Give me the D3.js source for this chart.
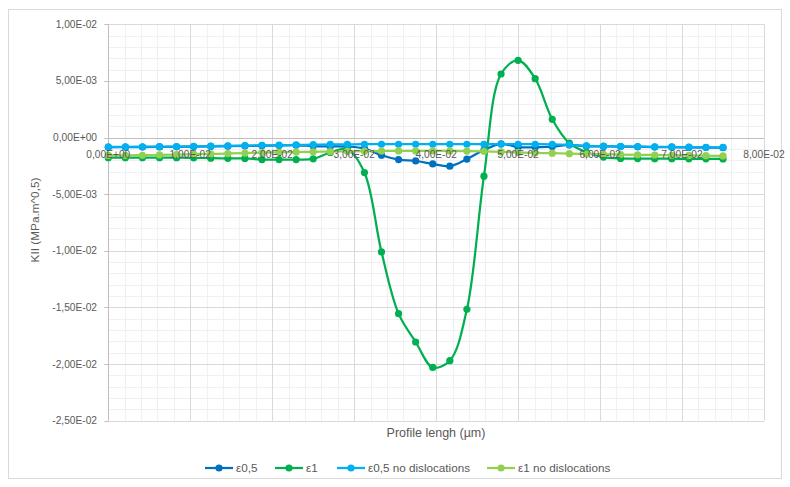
<!DOCTYPE html>
<html><head><meta charset="utf-8">
<script src="https://cdn.jsdelivr.net/npm/d3@7"></script>
<style>body{margin:0;background:#fff}text{font-family:"Liberation Sans",Arial,sans-serif;fill:#595959}</style>
</head><body><svg id="c" width="790" height="487"></svg>
<script>
const nPts = 37, xMax = 0.075;
const xValues = d3.range(nPts).map(i => i * xMax / (nPts - 1));
const seriesNames = ["ε0,5", "ε1", "ε0,5 no dislocations", "ε1 no dislocations"];
const seriesColors = ["#0070C0", "#00B050", "#00B0F0", "#92D050"];
// values in units of 1e-3
const eps05 = [-0.86,-0.85,-0.84,-0.83,-0.82,-0.80,-0.78,-0.76,-0.74,-0.72,-0.70,-0.68,-0.75,-0.78,-0.80,-0.97,-1.56,-1.94,-2.06,-2.33,-2.53,-1.90,-1.10,-0.55,-0.85,-0.85,-0.80,-0.65,-0.76,-0.78,-0.80,-0.82,-0.84,-0.85,-0.87,-0.88,-0.89];
const eps1 = [-1.78,-1.78,-1.78,-1.78,-1.78,-1.79,-1.82,-1.83,-1.84,-1.94,-1.94,-1.94,-1.88,-1.32,-1.05,-3.09,-10.1,-15.55,-18.05,-20.3,-19.7,-15.17,-3.41,5.61,6.82,5.2,1.61,-0.5,-1.30,-1.72,-1.84,-1.86,-1.87,-1.87,-1.88,-1.88,-1.89];
const eps05NoDisl = [-0.83,-0.82,-0.81,-0.80,-0.79,-0.77,-0.75,-0.73,-0.71,-0.69,-0.67,-0.65,-0.63,-0.61,-0.60,-0.59,-0.59,-0.59,-0.59,-0.59,-0.59,-0.59,-0.59,-0.59,-0.59,-0.59,-0.60,-0.65,-0.74,-0.76,-0.78,-0.80,-0.82,-0.83,-0.85,-0.86,-0.87];
const eps1NoDisl = [-1.58,-1.57,-1.56,-1.53,-1.50,-1.47,-1.44,-1.41,-1.37,-1.33,-1.30,-1.28,-1.26,-1.24,-1.22,-1.20,-1.19,-1.18,-1.18,-1.18,-1.18,-1.19,-1.22,-1.27,-1.31,-1.35,-1.38,-1.42,-1.45,-1.48,-1.50,-1.52,-1.54,-1.56,-1.58,-1.60,-1.62];
const xTicks = [0,0.01,0.02,0.03,0.04,0.05,0.06,0.07,0.08];
const xTickLabels = ["0,00E+00","1,00E-02","2,00E-02","3,00E-02","4,00E-02","5,00E-02","6,00E-02","7,00E-02","8,00E-02"];
const yTicks = [0.01,0.005,0,-0.005,-0.01,-0.015,-0.02,-0.025];
const yTickLabels = ["1,00E-02","5,00E-03","0,00E+00","-5,00E-03","-1,00E-02","-1,50E-02","-2,00E-02","-2,50E-02"];
const seriesValues = [eps05, eps1, eps05NoDisl, eps1NoDisl];

const svg = d3.select("#c");
svg.append("rect").attr("x",8.5).attr("y",9.5).attr("width",773).attr("height",469).attr("fill","#fff").attr("stroke","#d9d9d9");

const x = d3.scaleLinear().domain([0,0.08]).range([108.3,764]);
const y = d3.scaleLinear().domain([-0.025,0.01]).range([420.7,24.3]);

// minor grid
const g = svg.append("g");
d3.range(0,0.0801,0.002).forEach(v=>{
  g.append("line").attr("x1",Math.round(x(v))+0.5).attr("x2",Math.round(x(v))+0.5).attr("y1",y(0.01)).attr("y2",y(-0.025)).attr("stroke","#f0f0f0");
});
d3.range(-0.025,0.01001,0.001).forEach(v=>{
  g.append("line").attr("y1",Math.round(y(v))+0.5).attr("y2",Math.round(y(v))+0.5).attr("x1",x(0)).attr("x2",x(0.08)).attr("stroke","#f0f0f0");
});
// major grid
xTicks.forEach(v=>{
  g.append("line").attr("x1",Math.round(x(v))+0.5).attr("x2",Math.round(x(v))+0.5).attr("y1",y(0.01)).attr("y2",y(-0.025)).attr("stroke","#d9d9d9");
});
yTicks.forEach(v=>{
  g.append("line").attr("y1",Math.round(y(v))+0.5).attr("y2",Math.round(y(v))+0.5).attr("x1",x(0)).attr("x2",x(0.08)).attr("stroke","#d9d9d9");
});
// y axis line and ticks
svg.append("line").attr("x1",Math.round(x(0))+0.5).attr("x2",Math.round(x(0))+0.5).attr("y1",y(0.01)).attr("y2",y(-0.025)).attr("stroke","#bfbfbf");
yTicks.forEach((v,i)=>{
  svg.append("line").attr("x1",x(0)-4).attr("x2",x(0)).attr("y1",Math.round(y(v))+0.5).attr("y2",Math.round(y(v))+0.5).attr("stroke","#bfbfbf");
  svg.append("text").attr("x",97).attr("y",y(v)).attr("dy","0.35em").attr("text-anchor","end").attr("font-size","10.2px").text(yTickLabels[i]);
});
// x axis at zero
svg.append("line").attr("x1",x(0)).attr("x2",x(0.08)).attr("y1",Math.round(y(0))+0.5).attr("y2",Math.round(y(0))+0.5).attr("stroke","#bfbfbf");

// series
const line = d3.line().x((d,i)=>x(xValues[i])).y(d=>y(d*1e-3)).curve(d3.curveCatmullRom.alpha(0.5));
seriesValues.forEach((vals,s)=>{
  const sg = svg.append("g");
  sg.append("path").attr("d",line(vals)).attr("fill","none").attr("stroke",seriesColors[s]).attr("stroke-width",2.25).attr("stroke-linejoin","round");
  sg.selectAll("circle").data(vals).join("circle").attr("cx",(d,i)=>x(xValues[i])).attr("cy",d=>y(d*1e-3)).attr("r",3.6).attr("fill",seriesColors[s]);
});

// x tick labels (drawn over series as in reference)
xTicks.forEach((v,i)=>{
  svg.append("text").attr("x",x(v)).attr("y",158).attr("text-anchor","middle").attr("font-size","10.2px").text(xTickLabels[i]);
});

// axis titles
svg.append("text").attr("x",436).attr("y",437).attr("text-anchor","middle").attr("font-size","12.5px").text("Profile lengh (µm)");
svg.append("text").attr("transform","translate(39,220) rotate(-90)").attr("text-anchor","middle").attr("font-size","11.8px").text("KII (MPa.m^0,5)");

// legend
const legendX = [205,275,337,487];
seriesNames.forEach((nm,s)=>{
  const lx = legendX[s], ly = 468;
  svg.append("line").attr("x1",lx).attr("x2",lx+28).attr("y1",ly).attr("y2",ly).attr("stroke",seriesColors[s]).attr("stroke-width",2.25);
  svg.append("circle").attr("cx",lx+14).attr("cy",ly).attr("r",3.6).attr("fill",seriesColors[s]);
  svg.append("text").attr("x",lx+31).attr("y",ly).attr("dy","0.35em").attr("font-size","11.7px").text(nm);
});
</script></body></html>
